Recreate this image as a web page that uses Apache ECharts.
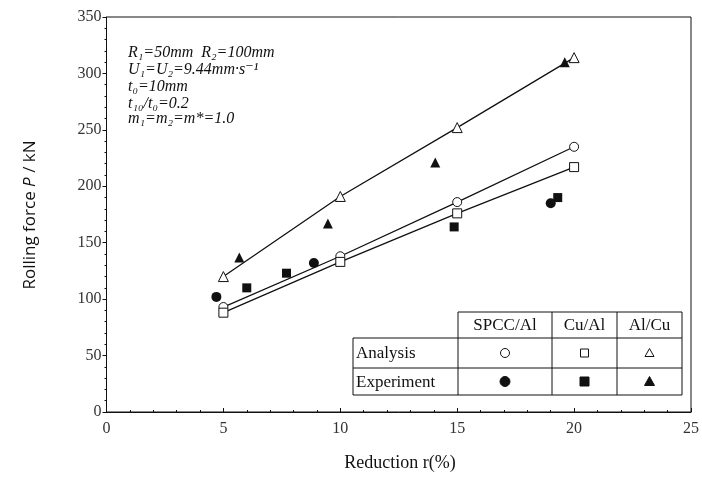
<!DOCTYPE html>
<html><head><meta charset="utf-8">
<script src="https://cdn.jsdelivr.net/npm/echarts@6/dist/echarts.min.js"></script>
<style>html,body{margin:0;padding:0;background:#fff}#c{width:702px;height:485px}</style>
</head><body><div id="c"></div>
<script>
const xTicks = [0, 5, 10, 15, 20, 25];
const yTicks = [0, 50, 100, 150, 200, 250, 300, 350];
const anaX = [5, 10, 15, 20];
const anaSPCC = [93, 138, 186, 235];
const anaCuAl = [88, 133, 176, 217];
const anaAlCu = [120, 191, 252, 314];
const expSPCCx = [4.7, 8.87, 19.0];
const expSPCCy = [102, 132, 185];
const expCuAlx = [6.0, 7.7, 14.87, 19.3];
const expCuAly = [110, 123, 164, 190];
const expAlCux = [5.68, 9.47, 14.06, 19.6];
const expAlCuy = [137, 167, 221, 310];
const notes = ['R\u2081=50mm  R\u2082=100mm', 'U\u2081=U\u2082=9.44mm\u00b7s\u207b\u00b9', 't\u2080=10mm', 't\u2081\u2080/t\u2080=0.2', 'm\u2081=m\u2082=m*=1.0'];
const tableCols = ['SPCC/Al', 'Cu/Al', 'Al/Cu'];
const tableRows = ['Analysis', 'Experiment'];

const zip = (xs, ys) => xs.map((x, i) => [x, ys[i]]);
const serif = "'Liberation Serif', 'DejaVu Serif', serif";
const sans = "'Open Sans', 'DejaVu Sans', sans-serif";
const ink = '#111';

const chart = echarts.init(document.getElementById('c'));
const gL = 106.5, gT = 17, gR = 694, gB = 412;

const graphics = [];
notes.forEach((t, i) => {
  graphics.push({type: 'text', left: 128, top: [45, 62, 79, 96, 111][i],
    style: {text: t, font: 'italic 16px ' + serif, fill: ink}});
});
// table
const tx = [353, 458, 552, 617, 682];
const ty = [312, 338, 368, 395];
const line = (x1, y1, x2, y2) => graphics.push({type: 'line', shape: {x1, y1, x2, y2}, style: {stroke: ink, lineWidth: 1}});
line(tx[1], ty[0], tx[4], ty[0]);
line(tx[0], ty[1], tx[4], ty[1]);
line(tx[0], ty[2], tx[4], ty[2]);
line(tx[0], ty[3], tx[4], ty[3]);
line(tx[0], ty[1], tx[0], ty[3]);
for (let k = 1; k <= 4; k++) line(tx[k], ty[0], tx[k], ty[3]);
tableCols.forEach((c, i) => graphics.push({type: 'text', x: (tx[i + 1] + tx[i + 2]) / 2, y: (ty[0] + ty[1]) / 2 + 1,
  style: {text: c, font: '17px ' + serif, fill: ink, textAlign: 'center', textVerticalAlign: 'middle'}}));
tableRows.forEach((r, j) => graphics.push({type: 'text', x: tx[0] + 3, y: (ty[j + 1] + ty[j + 2]) / 2 + 1,
  style: {text: r, font: '17px ' + serif, fill: ink, textAlign: 'left', textVerticalAlign: 'middle'}}));
for (let j = 0; j < 2; j++) {
  for (let i = 0; i < 3; i++) {
    const cx = (tx[i + 1] + tx[i + 2]) / 2, cy = (ty[j + 1] + ty[j + 2]) / 2;
    const fill = j === 0 ? '#fff' : ink;
    const r = j === 0 ? 4.5 : 5;
    let el;
    if (i === 0) el = {type: 'circle', shape: {cx, cy, r}};
    else if (i === 1) el = {type: 'rect', shape: {x: cx - r + 0.5, y: cy - r + 0.5, width: 2 * r - 1, height: 2 * r - 1}};
    else el = {type: 'polygon', shape: {points: [[cx, cy - r], [cx + r, cy + r - 1], [cx - r, cy + r - 1]]}};
    el.style = {fill, stroke: ink, lineWidth: 1};
    graphics.push(el);
  }
}
// axis titles
graphics.push({type: 'text', x: 30, y: 215, rotation: Math.PI / 2,
  style: {rich: {a: {font: '17px ' + sans, fill: ink}, b: {font: 'italic 17px ' + sans, fill: ink}},
    text: '{a|Rolling force }{b|P}{a| / kN}', textAlign: 'center', textVerticalAlign: 'middle'}});
graphics.push({type: 'text', x: 400, y: 463,
  style: {text: 'Reduction r(%)', font: '18px ' + serif, fill: ink, textAlign: 'center', textVerticalAlign: 'middle'}});

const anaStyle = (name, sym, data, size) => ({
  name, type: 'line', data, symbol: sym, symbolSize: size, showSymbol: true,
  lineStyle: {color: ink, width: 1.3}, itemStyle: {color: '#fff', borderColor: ink, borderWidth: 1, opacity: 1}, z: 3
});
const expStyle = (name, sym, data, size) => ({
  name, type: 'scatter', data, symbol: sym, symbolSize: size,
  itemStyle: {color: ink, opacity: 1}, z: 4
});

chart.setOption({
  animation: false,
  grid: {left: gL, top: gT, width: gR - gL, height: gB - gT, show: true, borderColor: ink, borderWidth: 1, backgroundColor: 'transparent'},
  xAxis: {type: 'value', min: xTicks[0], max: xTicks[xTicks.length - 1], interval: 5,
    axisLine: {lineStyle: {color: ink}}, axisTick: {inside: true, length: 4, lineStyle: {color: ink}},
    minorTick: {show: true, splitNumber: 5, length: 2, lineStyle: {color: ink}},
    splitLine: {show: false},
    axisLabel: {fontFamily: serif, fontSize: 16, color: '#333', margin: 9}},
  yAxis: {type: 'value', min: yTicks[0], max: yTicks[yTicks.length - 1], interval: 50,
    axisLine: {lineStyle: {color: ink}}, axisTick: {inside: false, length: 4, lineStyle: {color: ink}},
    minorTick: {show: true, splitNumber: 5, length: 2, lineStyle: {color: ink}},
    splitLine: {show: false},
    axisLabel: {fontFamily: serif, fontSize: 16, color: '#333', margin: 5}},
  series: [
    anaStyle('Analysis SPCC/Al', 'circle', zip(anaX, anaSPCC), 9),
    anaStyle('Analysis Cu/Al', 'rect', zip(anaX, anaCuAl), 9),
    anaStyle('Analysis Al/Cu', 'triangle', zip(anaX, anaAlCu), 10),
    expStyle('Experiment SPCC/Al', 'circle', zip(expSPCCx, expSPCCy), 10),
    expStyle('Experiment Cu/Al', 'rect', zip(expCuAlx, expCuAly), 9),
    expStyle('Experiment Al/Cu', 'triangle', zip(expAlCux, expAlCuy), 10)
  ],
  graphic: graphics
});
</script></body></html>
